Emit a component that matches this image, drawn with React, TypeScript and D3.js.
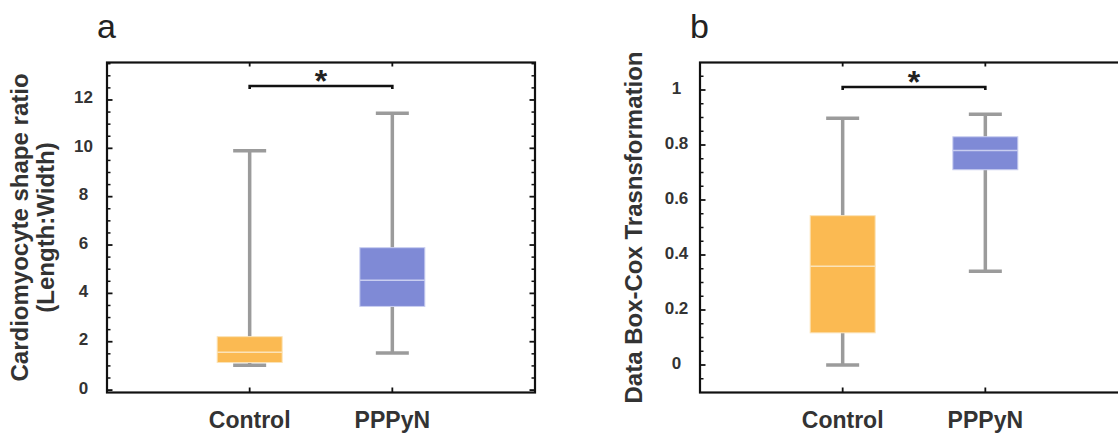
import React from "react";
import * as d3 from "d3";

const categories = ["Control", "PPPyN"];
const boxColors = ["#FBBA52", "#7F8AD6"];
const medianColors = ["#FBE3B8", "#C9CEF0"];

// Panel a: Cardiomyocyte shape ratio
const ratioWhiskerLow = [1.03, 1.53];
const ratioQ1 = [1.14, 3.46];
const ratioMedian = [1.57, 4.54];
const ratioQ3 = [2.21, 5.89];
const ratioWhiskerHigh = [9.9, 11.45];
const ratioSignificance = 12.58;
const ratioTicks = [0, 2, 4, 6, 8, 10, 12];
const ratioTickLabels = ["0", "2", "4", "6", "8", "10", "12"];
const ratioDomain = [-0.1, 13.55];
const ratioMinorStep = 0.5;

// Panel b: Box-Cox transformed data
const boxcoxWhiskerLow = [0.0, 0.341];
const boxcoxQ1 = [0.117, 0.71];
const boxcoxMedian = [0.359, 0.78];
const boxcoxQ3 = [0.543, 0.83];
const boxcoxWhiskerHigh = [0.897, 0.912];
const boxcoxSignificance = 1.011;
const boxcoxTicks = [0, 0.2, 0.4, 0.6, 0.8, 1];
const boxcoxTickLabels = ["0", "0.2", "0.4", "0.6", "0.8", "1"];
const boxcoxDomain = [-0.1, 1.1];
const boxcoxMinorStep = 0.05;

const TEXT = "#333333";
const FONT = "Liberation Sans, Arial, Helvetica, sans-serif";

type PanelProps = {
  left: number;
  label: string;
  yLabelLines: string[];
  yLabelX: number[];
  low: number[];
  q1: number[];
  med: number[];
  q3: number[];
  high: number[];
  sig: number;
  ticks: number[];
  tickLabels: string[];
  domain: number[];
  minorStep: number;
  rightTicks: boolean;
};

function Panel(p: PanelProps) {
  const top = 62.5;
  const bottom = 392.5;
  const width = 428;
  const right = p.left + width;
  const x = d3.scalePoint<string>().domain(categories).range([p.left, right]).padding(1);
  const y = d3.scaleLinear().domain(p.domain).range([bottom, top]);
  const nMinor = Math.round((p.domain[1] - p.domain[0]) / p.minorStep);
  const minor: number[] = [];
  for (let i = 0; i <= nMinor + 1; i++) {
    const v = +(Math.ceil(p.domain[0] / p.minorStep) * p.minorStep + i * p.minorStep).toFixed(4);
    if (v > p.domain[0] + 1e-6 && v < p.domain[1] - 1e-6 && !p.ticks.some((t) => Math.abs(t - v) < 1e-6)) minor.push(v);
  }
  const boxW = 65;
  const capW = 33;
  const sigY = y(p.sig);
  const x0 = x(categories[0])!;
  const x1 = x(categories[1])!;
  const yMid = (top + bottom) / 2;
  return (
    <g>
      <text x={p.left - 10} y={38} fontFamily={FONT} fontSize={34} fill="#222">
        {p.label}
      </text>
      {p.yLabelLines.map((ln, i) => (
        <text
          key={ln}
          transform={`translate(${p.yLabelX[i]},${yMid}) rotate(-90)`}
          textAnchor="middle"
          fontFamily={FONT}
          fontWeight="bold"
          fontSize={24}
          fill={TEXT}
        >
          {ln}
        </text>
      ))}
      {/* boxes */}
      {categories.map((c, i) => {
        const cx = x(c)!;
        return (
          <g key={c}>
            <line x1={cx} x2={cx} y1={y(p.high[i])} y2={y(p.q3[i])} stroke="#9B9B9B" strokeWidth={3.5} />
            <line x1={cx} x2={cx} y1={y(p.q1[i])} y2={y(p.low[i])} stroke="#9B9B9B" strokeWidth={3.5} />
            <line x1={cx - capW / 2} x2={cx + capW / 2} y1={y(p.high[i])} y2={y(p.high[i])} stroke="#9B9B9B" strokeWidth={3.5} />
            <line x1={cx - capW / 2} x2={cx + capW / 2} y1={y(p.low[i])} y2={y(p.low[i])} stroke="#9B9B9B" strokeWidth={3.5} />
            <rect
              x={cx - boxW / 2}
              y={y(p.q3[i])}
              width={boxW}
              height={y(p.q1[i]) - y(p.q3[i])}
              fill={boxColors[i]}
              stroke={medianColors[i]}
              strokeWidth={1}
            />
            <line x1={cx - boxW / 2} x2={cx + boxW / 2} y1={y(p.med[i])} y2={y(p.med[i])} stroke={medianColors[i]} strokeWidth={1.5} />
          </g>
        );
      })}
      {/* frame */}
      <rect x={p.left} y={top} width={width} height={bottom - top} fill="none" stroke="#111" strokeWidth={2.2} />
      {/* y ticks */}
      {p.ticks.map((t, i) => (
        <g key={"t" + i}>
          <line x1={p.left} x2={p.left + 5.5} y1={y(t)} y2={y(t)} stroke="#111" strokeWidth={1.8} />
          {p.rightTicks && <line x1={right} x2={right - 5.5} y1={y(t)} y2={y(t)} stroke="#111" strokeWidth={1.8} />}
          <text x={p.left - 23.5} y={y(t) + 3.5} textAnchor="middle" fontFamily={FONT} fontWeight="bold" fontSize={17} fill={TEXT}>
            {p.tickLabels[i]}
          </text>
        </g>
      ))}
      {minor.map((t, i) => (
        <g key={"m" + i}>
          <line x1={p.left} x2={p.left + 3.5} y1={y(t)} y2={y(t)} stroke="#111" strokeWidth={1.5} />
          {p.rightTicks && <line x1={right} x2={right - 3.5} y1={y(t)} y2={y(t)} stroke="#111" strokeWidth={1.5} />}
        </g>
      ))}
      {/* x ticks */}
      {categories.map((c) => (
        <g key={"x" + c}>
          <line x1={x(c)!} x2={x(c)!} y1={bottom} y2={bottom - 5} stroke="#111" strokeWidth={1.8} />
          <line x1={x(c)!} x2={x(c)!} y1={top} y2={top + 4} stroke="#111" strokeWidth={1.8} />
          <text x={x(c)!} y={428} textAnchor="middle" fontFamily={FONT} fontWeight="bold" fontSize={23} fill={TEXT}>
            {c}
          </text>
        </g>
      ))}
      {/* significance bracket */}
      <path
        d={`M${x0},${sigY + 3}V${sigY}H${x1}V${sigY + 3}`}
        fill="none"
        stroke="#111"
        strokeWidth={2.6}
      />
      <text x={(x0 + x1) / 2} y={sigY + 6} textAnchor="middle" fontFamily={FONT} fontWeight="bold" fontSize={32} fill="#222">
        *
      </text>
    </g>
  );
}

export default function App() {
  return (
    <svg
      width={1118}
      height={433}
      viewBox="0 0 1118 433"
      style={{ position: "absolute", left: 0, top: 0, background: "#fff" }}
    >
      <rect x={0} y={0} width={1118} height={433} fill="#fff" />
      <Panel
        left={107}
        label="a"
        yLabelLines={["Cardiomyocyte shape ratio", "(Length:Width)"]}
        yLabelX={[28, 54]}
        low={ratioWhiskerLow}
        q1={ratioQ1}
        med={ratioMedian}
        q3={ratioQ3}
        high={ratioWhiskerHigh}
        sig={ratioSignificance}
        ticks={ratioTicks}
        tickLabels={ratioTickLabels}
        domain={ratioDomain}
        minorStep={ratioMinorStep}
        rightTicks={true}
      />
      <Panel
        left={700}
        label="b"
        yLabelLines={["Data Box-Cox Trasnsformation"]}
        yLabelX={[642]}
        low={boxcoxWhiskerLow}
        q1={boxcoxQ1}
        med={boxcoxMedian}
        q3={boxcoxQ3}
        high={boxcoxWhiskerHigh}
        sig={boxcoxSignificance}
        ticks={boxcoxTicks}
        tickLabels={boxcoxTickLabels}
        domain={boxcoxDomain}
        minorStep={boxcoxMinorStep}
        rightTicks={false}
      />
    </svg>
  );
}
